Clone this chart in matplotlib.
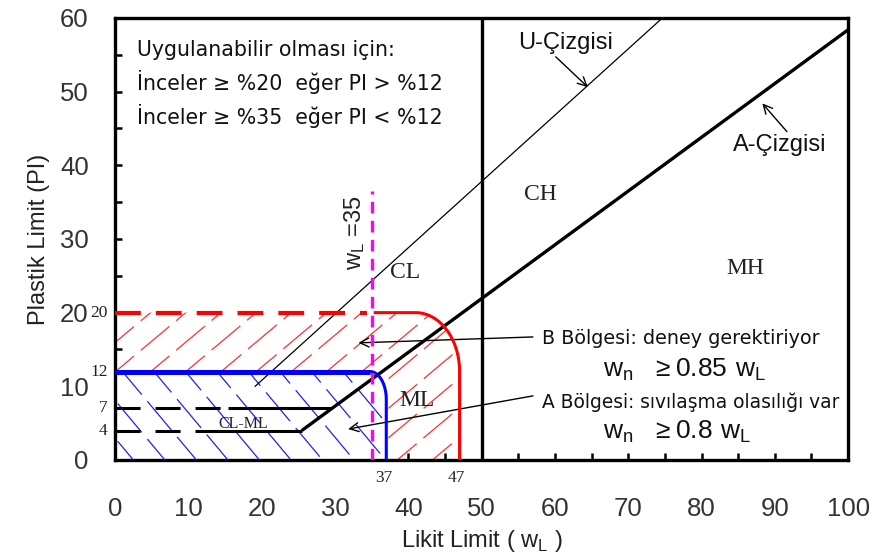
import numpy as np
import matplotlib.pyplot as plt
from matplotlib.path import Path
from matplotlib.patches import PathPatch

plt.rcParams['font.family'] = ['Liberation Sans', 'DejaVu Sans']

# Casagrande plasticity chart, lines written as PI = k * (LL - LL0)
a_line = (0.73, 20.0)
u_line = (0.9, 8.0)
u_start_pi = 10.0
ll_max, pi_max = 100, 60
ll_split = 50

# CL-ML band
clml_pi = [4, 7]
clml_dash_end = [10.9, 15.4]

# liquefaction zones (Seed et al. style criteria)
zone_b_ll, zone_b_pi = 47, 20
zone_a_ll, zone_a_pi = 37, 12
wl_limit, wl_limit_top = 35, 36.5

x_ticks = np.arange(0, 101, 10)
y_ticks = np.arange(0, 61, 10)
pi_marks = [20, 12, 7, 4]
ll_marks = [37, 47]


def pi_of(line, ll):
    k, ll0 = line
    return k * (np.asarray(ll) - ll0)


def ll_of(line, pi):
    k, ll0 = line
    return pi / k + ll0


def zone_outline(ll, pi, rx, ry):
    # top edge, rounded corner, then straight down to PI = 0
    t = np.linspace(np.pi / 2, 0, 30)
    cx, cy = ll - rx, pi - ry
    xs = np.concatenate([[0, cx], cx + rx * np.cos(t), [ll]])
    ys = np.concatenate([[pi, pi], cy + ry * np.sin(t), [0]])
    return xs, ys


def zone_patch(ax, xs, ys, **kw):
    verts = np.column_stack([np.r_[0, xs, 0], np.r_[0, ys, 0]])
    p = PathPatch(Path(verts, closed=True), **kw)
    ax.add_patch(p)
    return p


def hatch(ax, clip, slope, offsets, color, z):
    xx = np.array([-80.0, 120.0])
    for c in offsets:
        ln, = ax.plot(xx, slope * (xx - c), color=color, lw=0.9,
                      ls=(0, (30, 7)), zorder=z)
        ln.set_clip_path(clip)


fig = plt.figure(figsize=(8.78, 5.56), dpi=100)
ax = fig.add_axes([0.131, 0.1727, 0.835, 0.795])
ax.set_xlim(0, ll_max)
ax.set_ylim(0, pi_max)

# zone B (red) and zone A (blue) with their hatching
bx, by = zone_outline(zone_b_ll, zone_b_pi, 6, 8)
axx, ayy = zone_outline(zone_a_ll, zone_a_pi, 2.2, 3.8)
clip_b = zone_patch(ax, bx, by, facecolor='none', edgecolor='none')
hatch(ax, clip_b, 0.835, np.arange(-14.3 - 4.8 * 6, 60, 4.8), '#ff3030', 2)
zone_patch(ax, axx, ayy, facecolor='white', edgecolor='none', zorder=2.5)
clip_a = zone_patch(ax, axx, ayy, facecolor='none', edgecolor='none')
hatch(ax, clip_a, -1.19, np.arange(11.1 - 4.3 * 4, 70, 4.3), '#2020ff', 3)

# A-line and U-line
a_start = ll_of(a_line, clml_pi[0])
ll_a = np.array([a_start, ll_max])
ax.plot(ll_a, pi_of(a_line, ll_a), color='black', lw=2.4, zorder=4,
        solid_capstyle='butt')
ll_u = np.array([ll_of(u_line, u_start_pi), ll_of(u_line, pi_max)])
ax.plot(ll_u, pi_of(u_line, ll_u), color='black', lw=0.9, zorder=4)
ax.axvline(ll_split, color='black', lw=2.4, zorder=4)

# CL-ML band: dashed start, solid up to the A-line
for pi, d_end in zip(clml_pi, clml_dash_end):
    ax.plot([0, d_end], [pi, pi], color='black', lw=2.2,
            ls=(0, (8.2, 4.9)), zorder=4)
    ax.plot([d_end, ll_of(a_line, pi)], [pi, pi], color='black', lw=2.2,
            zorder=4, solid_capstyle='butt')

# zone boundaries
ax.plot([0, 34.4], [zone_b_pi, zone_b_pi], color='red', lw=3,
        ls=(0, (6.2, 3.6)), zorder=5)
keep = bx >= 35.5
ax.plot(np.r_[35.5, bx[keep]], np.r_[zone_b_pi, by[keep]], color='red',
        lw=2.2, zorder=5)
ax.plot(axx, ayy, color='blue', lw=2.2, zorder=5)
ax.plot(axx[:2], ayy[:2], color='blue', lw=3.6, zorder=5,
        solid_capstyle='butt')
ax.plot([wl_limit, wl_limit], [0, wl_limit_top], color='magenta', lw=2.4,
        ls=(0, (3.5, 2.2)), zorder=6)

# frame and ticks
for s in ax.spines.values():
    s.set_linewidth(2.4)
ax.set_xticks(x_ticks)
ax.set_yticks(y_ticks)
ax.set_xticks(np.arange(5, 100, 10), minor=True)
ax.set_yticks(np.arange(5, 60, 10), minor=True)
ax.tick_params(which='both', direction='in', length=5, width=1.8,
               top=False, right=False)
ax.tick_params(axis='x', which='major', pad=27, labelsize=18.5,
               labelcolor='#333333')
ax.tick_params(axis='y', which='major', pad=19, labelsize=18.5,
               labelcolor='#333333')
ax.set_xlabel(r'Likit Limit ( w$_{\mathregular{L}}$ )', fontsize=17,
              color='#222222', labelpad=5)
ax.set_ylabel('Plastik Limit (PI)', fontsize=17, color='#222222',
              labelpad=7)

serif = dict(family='Liberation Serif', color='#222222')
for pi in pi_marks:
    ax.text(-1.0, pi, str(pi), ha='right', va='center', fontsize=12.5,
            clip_on=False, **serif)
for ll in ll_marks:
    ax.text(ll - 0.4, -2.4, str(ll), ha='center', va='center', fontsize=12.5,
            clip_on=False, **serif)

# soil group labels
ax.text(58, 36, 'CH', fontsize=17, ha='center', va='center', **serif)
ax.text(39.6, 25.5, 'CL', fontsize=17, ha='center', va='center', **serif)
ax.text(86, 26, 'MH', fontsize=17, ha='center', va='center', **serif)
ax.text(41.2, 8.1, 'ML', fontsize=17, ha='center', va='center', **serif)
ax.text(17.5, 4.9, 'CL-ML', fontsize=11.5, ha='center', va='center',
        **serif)
ax.text(32.7, 30.8, r'$\mathregular{w_L}$ =35', rotation=90, fontsize=17,
        ha='center', va='center', color='#222222')

ax.text(3.0, 51.1,
        'Uygulanabilir olması için:\n'
        'İnceler ≥ %20  eğer PI > %12\n'
        'İnceler ≥ %35  eğer PI < %12',
        ha='left', va='center', fontsize=14.8, linespacing=1.5,
        family=['DejaVu Sans'], color='#111111')

arrow = dict(arrowstyle='->', lw=1.0, color='black', shrinkA=0, shrinkB=0,
             mutation_scale=16)
ax.annotate('U-Çizgisi', xy=(64.5, 50.6), xytext=(61.4, 56.6),
            ha='center', va='center', fontsize=17, color='#111111',
            arrowprops=dict(arrow, relpos=(0.37, 0.0)))
ax.annotate('A-Çizgisi', xy=(88.3, 48.4), xytext=(90.7, 42.7),
            ha='center', va='center', fontsize=17, color='#111111',
            arrowprops=dict(arrow, relpos=(0.6, 1.0)))

ax.annotate('', xy=(33.2, 15.9), xytext=(57.0, 16.7), arrowprops=arrow)
ax.annotate('', xy=(31.8, 4.2), xytext=(57.0, 8.7), arrowprops=arrow)
ax.text(58.2, 16.55, 'B Bölgesi: deney gerektiriyor', ha='left',
        va='center', fontsize=13.8, family=['DejaVu Sans'], color='#111111')
ax.text(58.2, 7.9, 'A Bölgesi: sıvılaşma olasılığı var', ha='left',
        va='center', fontsize=13.4, family=['DejaVu Sans'], color='#111111')
ax.text(66.6, 12.2, r'$\mathregular{w_n\ \ \geq 0.85\ w_L}$', ha='left',
        va='center', fontsize=19, color='#111111')
ax.text(66.6, 3.8, r'$\mathregular{w_n\ \ \geq 0.8\ w_L}$', ha='left',
        va='center', fontsize=19, color='#111111')

fig.savefig('out.png', dpi=100)
